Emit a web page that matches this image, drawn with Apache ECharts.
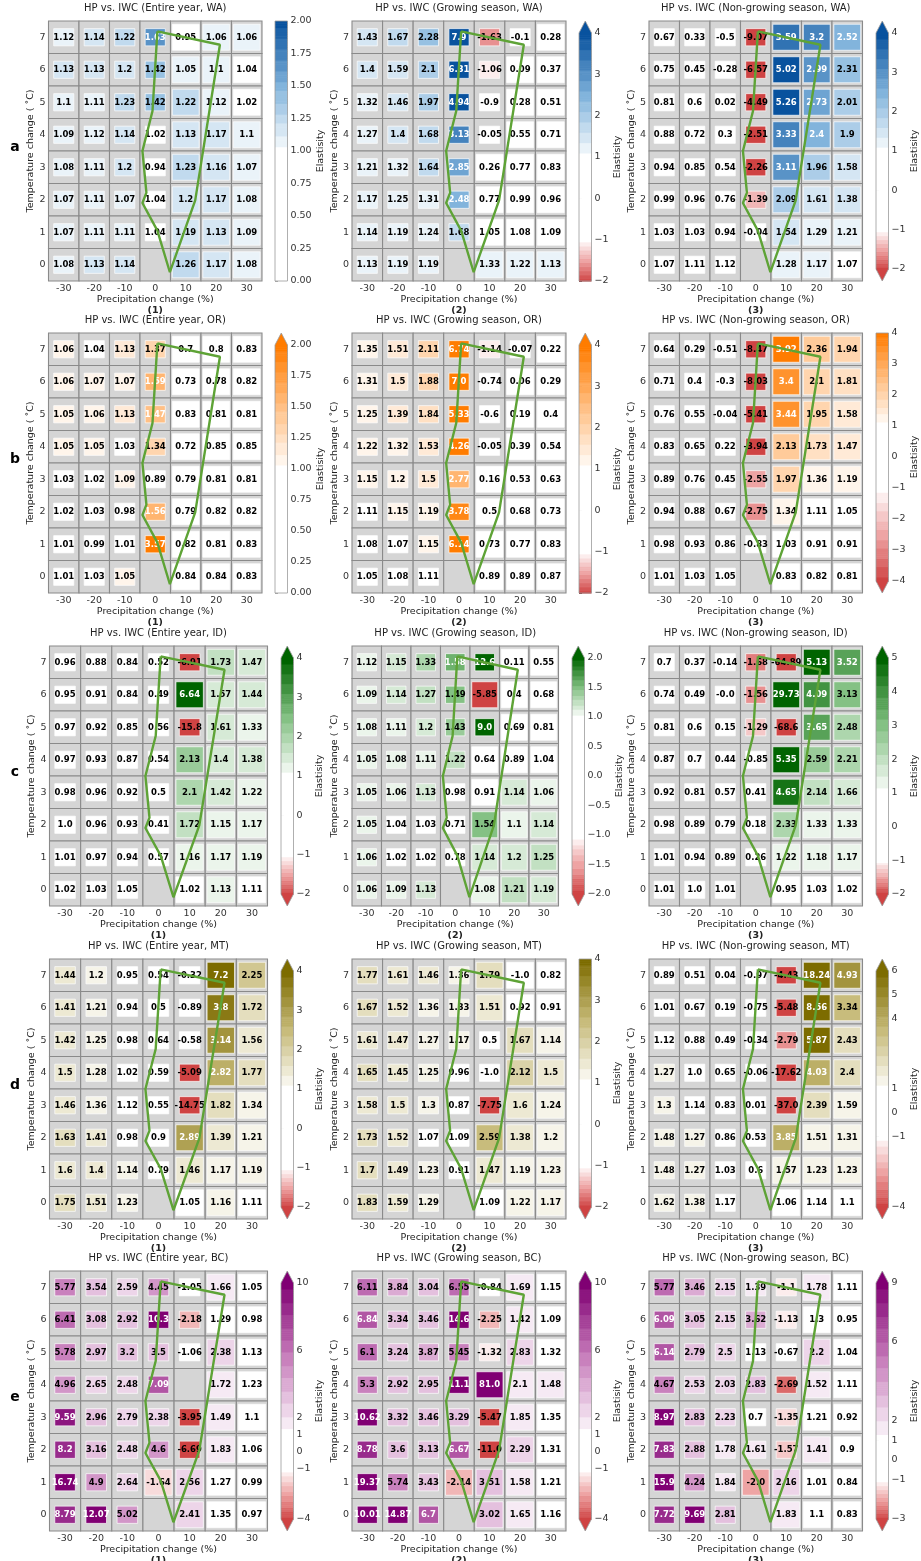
<!DOCTYPE html>
<html>
<head>
<meta charset="utf-8">
<title>HP vs. IWC elasticity</title>
<script src="https://cdn.jsdelivr.net/npm/echarts@6/dist/echarts.min.js"></script>
<style>
  html, body { margin: 0; padding: 0; background: #fff; }
  #chart { width: 921px; height: 1561px; }
</style>
</head>
<body>
<div id="chart"></div>
<script>
// axes of every panel
const precip = [-30, -20, -10, 0, 10, 20, 30]
const temps = [7, 6, 5, 4, 3, 2, 1, 0] // row order of the tables below

// elasticity tables, one row per temperature change (7 at top)
const waEntire = [
  [1.12, 1.14, 1.22, 1.63, 0.95, 1.06, 1.06],
  [1.13, 1.13, 1.2, 1.42, 1.05, 1.1, 1.04],
  [1.1, 1.11, 1.23, 1.42, 1.22, 1.12, 1.02],
  [1.09, 1.12, 1.14, 1.02, 1.13, 1.17, 1.1],
  [1.08, 1.11, 1.2, 0.94, 1.23, 1.16, 1.07],
  [1.07, 1.11, 1.07, 1.04, 1.2, 1.17, 1.08],
  [1.07, 1.11, 1.11, 1.04, 1.19, 1.13, 1.09],
  [1.08, 1.13, 1.14, null, 1.26, 1.17, 1.08]
]
const waGrowing = [
  [1.43, 1.67, 2.28, 7.9, -1.63, -0.1, 0.28],
  [1.4, 1.59, 2.1, 6.31, -1.06, 0.09, 0.37],
  [1.32, 1.46, 1.97, 4.94, -0.9, 0.28, 0.51],
  [1.27, 1.4, 1.68, 3.13, -0.05, 0.55, 0.71],
  [1.21, 1.32, 1.64, 2.85, 0.26, 0.77, 0.83],
  [1.17, 1.25, 1.31, 2.48, 0.77, 0.99, 0.96],
  [1.14, 1.19, 1.24, 1.68, 1.05, 1.08, 1.09],
  [1.13, 1.19, 1.19, null, 1.33, 1.22, 1.13]
]
const waNonGrowing = [
  [0.67, 0.33, -0.5, -9.07, 3.59, 3.2, 2.52],
  [0.75, 0.45, -0.28, -6.57, 5.02, 2.99, 2.31],
  [0.81, 0.6, 0.02, -4.49, 5.26, 2.73, 2.01],
  [0.88, 0.72, 0.3, -2.51, 3.33, 2.4, 1.9],
  [0.94, 0.85, 0.54, -2.26, 3.11, 1.96, 1.58],
  [0.99, 0.96, 0.76, -1.39, 2.09, 1.61, 1.38],
  [1.03, 1.03, 0.94, -0.04, 1.54, 1.29, 1.21],
  [1.07, 1.11, 1.12, null, 1.28, 1.17, 1.07]
]
const orEntire = [
  [1.06, 1.04, 1.13, 1.37, 0.7, 0.8, 0.83],
  [1.06, 1.07, 1.07, 1.59, 0.73, 0.78, 0.82],
  [1.05, 1.06, 1.13, 1.47, 0.83, 0.81, 0.81],
  [1.05, 1.05, 1.03, 1.34, 0.72, 0.85, 0.85],
  [1.03, 1.02, 1.09, 0.89, 0.79, 0.81, 0.81],
  [1.02, 1.03, 0.98, 1.56, 0.79, 0.82, 0.82],
  [1.01, 0.99, 1.01, 3.57, 0.82, 0.81, 0.83],
  [1.01, 1.03, 1.05, null, 0.84, 0.84, 0.83]
]
const orGrowing = [
  [1.35, 1.51, 2.11, 6.74, -1.14, -0.07, 0.22],
  [1.31, 1.5, 1.88, 7.0, -0.74, 0.06, 0.29],
  [1.25, 1.39, 1.84, 5.33, -0.6, 0.19, 0.4],
  [1.22, 1.32, 1.53, 4.26, -0.05, 0.39, 0.54],
  [1.15, 1.2, 1.5, 2.77, 0.16, 0.53, 0.63],
  [1.11, 1.15, 1.19, 3.78, 0.5, 0.68, 0.73],
  [1.08, 1.07, 1.15, 6.14, 0.73, 0.77, 0.83],
  [1.05, 1.08, 1.11, null, 0.89, 0.89, 0.87]
]
const orNonGrowing = [
  [0.64, 0.29, -0.51, -8.47, 3.92, 2.36, 1.94],
  [0.71, 0.4, -0.3, -8.03, 3.4, 2.1, 1.81],
  [0.76, 0.55, -0.04, -5.41, 3.44, 1.95, 1.58],
  [0.83, 0.65, 0.22, -3.94, 2.13, 1.73, 1.47],
  [0.89, 0.76, 0.45, -2.55, 1.97, 1.36, 1.19],
  [0.94, 0.88, 0.67, -2.75, 1.34, 1.11, 1.05],
  [0.98, 0.93, 0.86, -0.83, 1.03, 0.91, 0.91],
  [1.01, 1.03, 1.05, null, 0.83, 0.82, 0.81]
]
const idEntire = [
  [0.96, 0.88, 0.84, 0.52, -6.91, 1.73, 1.47],
  [0.95, 0.91, 0.84, 0.49, 6.64, 1.57, 1.44],
  [0.97, 0.92, 0.85, 0.56, -15.8, 1.61, 1.33],
  [0.97, 0.93, 0.87, 0.54, 2.13, 1.4, 1.38],
  [0.98, 0.96, 0.92, 0.5, 2.1, 1.42, 1.22],
  [1.0, 0.96, 0.93, 0.41, 1.72, 1.15, 1.17],
  [1.01, 0.97, 0.94, 0.57, 1.16, 1.17, 1.19],
  [1.02, 1.03, 1.05, null, 1.02, 1.13, 1.11]
]
const idGrowing = [
  [1.12, 1.15, 1.33, 1.58, 12.6, 0.11, 0.55],
  [1.09, 1.14, 1.27, 1.49, -5.85, 0.4, 0.68],
  [1.08, 1.11, 1.2, 1.43, 9.0, 0.69, 0.81],
  [1.05, 1.08, 1.11, 1.22, 0.64, 0.89, 1.04],
  [1.05, 1.06, 1.13, 0.98, 0.91, 1.14, 1.06],
  [1.05, 1.04, 1.03, 0.71, 1.54, 1.1, 1.14],
  [1.06, 1.02, 1.02, 0.78, 1.14, 1.2, 1.25],
  [1.06, 1.09, 1.13, null, 1.08, 1.21, 1.19]
]
const idNonGrowing = [
  [0.7, 0.37, -0.14, -1.68, -64.89, 5.13, 3.52],
  [0.74, 0.49, -0.0, -1.56, 29.73, 4.09, 3.13],
  [0.81, 0.6, 0.15, -1.29, -68.6, 3.65, 2.48],
  [0.87, 0.7, 0.44, -0.85, 5.35, 2.59, 2.21],
  [0.92, 0.81, 0.57, 0.41, 4.65, 2.14, 1.66],
  [0.98, 0.89, 0.79, 0.18, 2.33, 1.33, 1.33],
  [1.01, 0.94, 0.89, 0.26, 1.22, 1.18, 1.17],
  [1.01, 1.0, 1.01, null, 0.95, 1.03, 1.02]
]
const mtEntire = [
  [1.44, 1.2, 0.95, 0.54, -0.32, 7.2, 2.25],
  [1.41, 1.21, 0.94, 0.5, -0.89, 3.8, 1.72],
  [1.42, 1.25, 0.98, 0.64, -0.58, 3.14, 1.56],
  [1.5, 1.28, 1.02, 0.59, -5.09, 2.82, 1.77],
  [1.46, 1.36, 1.12, 0.55, -14.75, 1.82, 1.34],
  [1.63, 1.41, 0.98, 0.9, 2.89, 1.39, 1.21],
  [1.6, 1.4, 1.14, 0.79, 1.46, 1.17, 1.19],
  [1.75, 1.51, 1.23, null, 1.05, 1.16, 1.11]
]
const mtGrowing = [
  [1.77, 1.61, 1.46, 1.36, 1.79, -1.0, 0.82],
  [1.67, 1.52, 1.36, 1.33, 1.51, 0.92, 0.91],
  [1.61, 1.47, 1.27, 1.17, 0.5, 1.67, 1.14],
  [1.65, 1.45, 1.25, 0.96, -1.0, 2.12, 1.5],
  [1.58, 1.5, 1.3, 0.87, -7.75, 1.6, 1.24],
  [1.73, 1.52, 1.07, 1.09, 2.59, 1.38, 1.2],
  [1.7, 1.49, 1.23, 0.91, 1.47, 1.19, 1.23],
  [1.83, 1.59, 1.29, null, 1.09, 1.22, 1.17]
]
const mtNonGrowing = [
  [0.89, 0.51, 0.04, -0.97, -4.43, 18.24, 4.93],
  [1.01, 0.67, 0.19, -0.75, -5.48, 8.56, 3.34],
  [1.12, 0.88, 0.49, -0.34, -2.79, 5.87, 2.43],
  [1.27, 1.0, 0.65, -0.06, -17.62, 4.03, 2.4],
  [1.3, 1.14, 0.83, 0.01, -37.0, 2.39, 1.59],
  [1.48, 1.27, 0.86, 0.53, 3.85, 1.51, 1.31],
  [1.48, 1.27, 1.03, 0.6, 1.57, 1.23, 1.23],
  [1.62, 1.38, 1.17, null, 1.06, 1.14, 1.1]
]
const bcEntire = [
  [5.77, 3.54, 2.59, 4.45, -1.05, 1.66, 1.05],
  [6.41, 3.08, 2.92, 10.3, -2.18, 1.29, 0.98],
  [5.78, 2.97, 3.2, 3.5, -1.06, 2.38, 1.13],
  [4.96, 2.65, 2.48, 7.09, null, 1.72, 1.23],
  [9.59, 2.96, 2.79, 2.38, -3.95, 1.49, 1.1],
  [8.2, 3.16, 2.48, 4.6, -6.69, 1.83, 1.06],
  [16.74, 4.9, 2.64, -1.64, 2.56, 1.27, 0.99],
  [8.79, 12.07, 5.02, null, 2.41, 1.35, 0.97]
]
const bcGrowing = [
  [6.11, 3.84, 3.04, 6.55, -0.84, 1.69, 1.15],
  [6.84, 3.34, 3.46, 14.6, -2.25, 1.42, 1.09],
  [6.1, 3.24, 3.87, 5.45, -1.32, 2.83, 1.32],
  [5.3, 2.92, 2.95, 11.1, 81.0, 2.1, 1.48],
  [10.62, 3.32, 3.46, 3.29, -5.47, 1.85, 1.35],
  [8.78, 3.6, 3.13, 6.67, -11.0, 2.29, 1.31],
  [19.37, 5.74, 3.43, -2.14, 3.51, 1.58, 1.21],
  [10.01, 14.87, 6.7, null, 3.02, 1.65, 1.16]
]
const bcNonGrowing = [
  [5.77, 3.46, 2.15, 1.39, -1.1, 1.78, 1.11],
  [6.09, 3.05, 2.15, 3.62, -1.13, 1.3, 0.95],
  [6.14, 2.79, 2.5, 1.13, -0.67, 2.2, 1.04],
  [4.67, 2.53, 2.03, 2.83, -2.69, 1.52, 1.11],
  [8.97, 2.83, 2.23, 0.7, -1.35, 1.21, 0.92],
  [7.83, 2.88, 1.78, 1.61, -1.57, 1.41, 0.9],
  [15.9, 4.24, 1.84, -2.0, 2.16, 1.01, 0.84],
  [7.72, 9.69, 2.81, null, 1.83, 1.1, 0.83]
]

// cells whose marker class differs from the "HP rises" rule (precip, temp)
const flipsIdGrowing = [[10, 7], [10, 6], [10, 5]]
const flipsMtGrowing = [[10, 5], [20, 7]]
const flipsBc = [[0, 1]]

// outlined zone (precip %, temp C)
const zonePrecip = [0.7, 21.2, 13.1, 4.8, 0.7, -4.2, -2.9, -4.2, -0.9, 0.7]
const zoneTemp = [7.18, 6.77, 1.98, -0.23, 1.05, 1.9, 2.22, 3.5, 4.73, 7.18]

// colour bar ranges and tick labels
const rangeA = [[0, 2], [-2, 4], [-2, 4]]
const rangeB = [[0, 2], [-2, 4], [-4, 4]]
const rangeC = [[-2, 4], [-2, 2], [-2, 5]]
const rangeD = [[-2, 4], [-2, 4], [-4, 6]]
const rangeE = [[-4, 10], [-4, 10], [-3, 9]]
const ticksQuarter = [0, 0.25, 0.5, 0.75, 1, 1.25, 1.5, 1.75, 2]
const ticksUnit = [-2, -1, 0, 1, 2, 3, 4]
const ticksOr3 = [-4, -3, -2, -1, 0, 1, 2, 3, 4]
const ticksId2 = [-2, -1.5, -1, -0.5, 0, 0.5, 1, 1.5, 2]
const ticksId3 = [-2, -1, 0, 1, 2, 3, 4, 5]
const ticksMt3 = [-4, -1, 0, 1, 4, 5, 6]
const ticksBc = [-4, -1, 0, 1, 2, 6, 10]
const ticksBc3 = [-3, -1, 0, 1, 2, 6, 9]

const regions = ['WA', 'OR', 'ID', 'MT', 'BC']
const seasons = ['Entire year', 'Growing season', 'Non-growing season']
const rowLetters = ['a', 'b', 'c', 'd', 'e']

const FONT = 'DejaVu Sans'

const panels = [
  [
    { values: waEntire, range: rangeA[0], ticks: ticksQuarter, dec: 2, arrow: 'none' },
    { values: waGrowing, range: rangeA[1], ticks: ticksUnit, dec: 0, arrow: 'top' },
    { values: waNonGrowing, range: rangeA[2], ticks: ticksUnit, dec: 0, arrow: 'both' }
  ],
  [
    { values: orEntire, range: rangeB[0], ticks: ticksQuarter, dec: 2, arrow: 'top' },
    { values: orGrowing, range: rangeB[1], ticks: ticksUnit, dec: 0, arrow: 'top' },
    { values: orNonGrowing, range: rangeB[2], ticks: ticksOr3, dec: 0, arrow: 'bottom' }
  ],
  [
    { values: idEntire, range: rangeC[0], ticks: ticksUnit, dec: 0, arrow: 'both' },
    { values: idGrowing, range: rangeC[1], ticks: ticksId2, dec: 1, arrow: 'both', flips: flipsIdGrowing },
    { values: idNonGrowing, range: rangeC[2], ticks: ticksId3, dec: 0, arrow: 'both' }
  ],
  [
    { values: mtEntire, range: rangeD[0], ticks: ticksUnit, dec: 0, arrow: 'both' },
    { values: mtGrowing, range: rangeD[1], ticks: ticksUnit, dec: 0, arrow: 'bottom', flips: flipsMtGrowing },
    { values: mtNonGrowing, range: rangeD[2], ticks: ticksMt3, dec: 0, arrow: 'both' }
  ],
  [
    { values: bcEntire, range: rangeE[0], ticks: ticksBc, dec: 0, arrow: 'both', flips: flipsBc },
    { values: bcGrowing, range: rangeE[1], ticks: ticksBc, dec: 0, arrow: 'both', flips: flipsBc },
    { values: bcNonGrowing, range: rangeE[2], ticks: ticksBc3, dec: 0, arrow: 'both', flips: flipsBc }
  ]
]

// colour ramps: white -> mid -> dark, plus a white-to-red ramp for values below -1
const palettes = [
  { stops: ['#ffffff', '#82b4dc', '#08529e'], white: 0.45 },
  { stops: ['#ffffff', '#ffc086', '#ff7c00'], white: 0.45 },
  { stops: ['#ffffff', '#84c184', '#006400'], white: 0.52 },
  { stops: ['#ffffff', '#c8bc7c', '#7d6c00'], white: 0.58 },
  { stops: ['#ffffff', '#c981bd', '#800073'], white: 0.62 }
]
const redStops = ['#ffffff', '#eea4a4', '#cf4343']

const rowTops = [21, 333, 646, 959, 1271]
const PLOT_H = 260
const CB_W = 12.5
const ARROW = 12

function panelBox(r, c) {
  if (c === 0) return r < 2 ? { left: 48.5, width: 213.5, cb: 275, name: 318.5 } : { left: 49.5, width: 218, cb: 281, name: 318.5 }
  if (c === 1) return r === 2 ? { left: 352, width: 206.5, cb: 572, name: 617 } : { left: 352, width: 214, cb: 579, name: 617 }
  return { left: 649, width: 213.5, cb: 876, name: 913 }
}

function hexToRgb(h) {
  return [parseInt(h.slice(1, 3), 16), parseInt(h.slice(3, 5), 16), parseInt(h.slice(5, 7), 16)]
}
function ramp(stops, t) {
  const seg = t <= 0.5 ? 0 : 1
  const lt = seg === 0 ? t / 0.5 : (t - 0.5) / 0.5
  const a = hexToRgb(stops[seg])
  const b = hexToRgb(stops[seg + 1])
  const c = a.map((x, i) => Math.round(x + (b[i] - x) * lt))
  return 'rgb(' + c.join(',') + ')'
}

function makeScale(lo, hi, pal) {
  return function (v) {
    if (v > 1) {
      let t = Math.min(1, (v - 1) / (hi - 1))
      t = Math.round(t * 12) / 12
      return { color: ramp(pal.stops, t), light: t >= pal.white }
    }
    if (v < -1 && lo < -1) {
      let t = Math.min(1, (-1 - v) / (-1 - lo))
      t = Math.round(t * 10) / 10
      return { color: ramp(redStops, t), light: false }
    }
    return { color: '#ffffff', light: false }
  }
}

function fmtCell(v) {
  if (Object.is(v, -0)) return '-0.0'
  return Number.isInteger(v) ? v.toFixed(1) : String(v)
}

function cellSeries(gi, panel, scale) {
  const cells = []
  const flips = panel.flips || []
  panel.values.forEach(function (row, ri) {
    row.forEach(function (v, ci) {
      const p = precip[ci]
      const t = temps[ri]
      let big = v !== null && p > 0 && v > 0
      if (flips.some(f => f[0] === p && f[1] === t)) big = !big
      cells.push({ p, t, v, big })
    })
  })
  return {
    type: 'custom',
    xAxisIndex: gi,
    yAxisIndex: gi,
    silent: true,
    z: 2,
    data: cells.map(c => [c.p, c.t]),
    renderItem: function (params, api) {
      const cell = cells[params.dataIndex]
      const c = api.coord([cell.p, cell.t])
      const s = api.size([10, 1])
      const children = [{
        type: 'rect',
        shape: { x: c[0] - s[0] / 2, y: c[1] - s[1] / 2, width: s[0], height: s[1] },
        style: { fill: '#d5d5d5', stroke: '#8a8a8a', lineWidth: 1.1 }
      }]
      if (cell.v !== null) {
        const w = s[0] * (cell.big ? 0.88 : 0.66)
        const h = s[1] * (cell.big ? 0.8 : 0.53)
        const col = scale(cell.v)
        children.push({
          type: 'rect',
          shape: { x: c[0] - w / 2, y: c[1] - h / 2, width: w, height: h },
          style: { fill: col.color, stroke: 'rgba(255,255,255,0.85)', lineWidth: 0.8 }
        })
        children.push({
          type: 'text',
          style: {
            text: fmtCell(cell.v), x: c[0], y: c[1] + 0.5,
            fill: col.light ? '#ffffff' : '#000000',
            fontSize: 8.5, fontWeight: 'bold', fontFamily: FONT,
            align: 'center', verticalAlign: 'middle',
            textAlign: 'center', textVerticalAlign: 'middle'
          }
        })
      }
      return { type: 'group', children }
    }
  }
}

function colorbarSeries(gi, panel, scale) {
  const lo = panel.range[0]
  const hi = panel.range[1]
  const steps = 120
  const bands = []
  for (let i = 0; i < steps; i++) bands.push([lo + (hi - lo) * i / steps, lo + (hi - lo) * (i + 1) / steps])
  const top = panel.arrow === 'top' || panel.arrow === 'both'
  const bottom = panel.arrow === 'bottom' || panel.arrow === 'both'
  return {
    type: 'custom',
    xAxisIndex: gi,
    yAxisIndex: gi,
    silent: true,
    clip: false,
    data: bands,
    renderItem: function (params, api) {
      const b = bands[params.dataIndex]
      const p0 = api.coord([0, b[0]])
      const p1 = api.coord([1, b[1]])
      const children = [{
        type: 'rect',
        shape: { x: p0[0], y: p1[1], width: p1[0] - p0[0], height: p0[1] - p1[1] + 0.6 },
        style: { fill: scale((b[0] + b[1]) / 2).color }
      }]
      const bl = api.coord([0, lo])
      const tr = api.coord([1, hi])
      const mx = (bl[0] + tr[0]) / 2
      if (params.dataIndex === 0 && bottom) {
        children.push({
          type: 'polygon',
          shape: { points: [[bl[0], bl[1]], [tr[0], bl[1]], [mx, bl[1] + ARROW]] },
          style: { fill: scale(lo - 1).color }
        })
      }
      if (params.dataIndex === steps - 1) {
        if (top) {
          children.push({
            type: 'polygon',
            shape: { points: [[bl[0], tr[1]], [tr[0], tr[1]], [mx, tr[1] - ARROW]] },
            style: { fill: scale(hi + 1).color }
          })
        }
        const pts = [[bl[0], bl[1]]]
        if (bottom) pts.push([mx, bl[1] + ARROW])
        pts.push([tr[0], bl[1]], [tr[0], tr[1]])
        if (top) pts.push([mx, tr[1] - ARROW])
        pts.push([bl[0], tr[1]])
        children.push({
          type: 'polygon',
          shape: { points: pts },
          style: { fill: 'none', stroke: '#9a9a9a', lineWidth: 0.8 }
        })
      }
      return { type: 'group', children }
    }
  }
}

const grid = []
const xAxis = []
const yAxis = []
const series = []
const texts = []
const axisFont = { fontSize: 9.5, color: '#333', fontFamily: FONT }
const nameFont = { fontSize: 9.5, color: '#222', fontFamily: FONT }

let gi = 0
panels.forEach(function (row, r) {
  const top = rowTops[r]
  texts.push({
    type: 'text', x: 15, y: top + 126.5,
    style: { text: rowLetters[r], fontSize: 14, fontWeight: 'bold', fontFamily: FONT, fill: '#000', align: 'center', verticalAlign: 'middle', textAlign: 'center', textVerticalAlign: 'middle' }
  })
  row.forEach(function (panel, c) {
    const box = panelBox(r, c)
    const scale = makeScale(panel.range[0], panel.range[1], palettes[r])

    // heatmap grid
    grid.push({ left: box.left, top: top, width: box.width, height: PLOT_H })
    xAxis.push({
      gridIndex: gi, type: 'value', min: -35, max: 35,
      axisLine: { show: false }, splitLine: { show: false },
      axisTick: { show: true, customValues: precip, length: 3, lineStyle: { color: '#333' } },
      axisLabel: Object.assign({ customValues: precip, margin: 3 }, axisFont),
      name: 'Precipitation change (%)', nameLocation: 'middle', nameGap: 14, nameTextStyle: nameFont
    })
    yAxis.push({
      gridIndex: gi, type: 'value', min: -0.5, max: 7.5,
      axisLine: { show: false }, splitLine: { show: false },
      axisTick: { show: true, customValues: [0, 1, 2, 3, 4, 5, 6, 7], length: 3, lineStyle: { color: '#333' } },
      axisLabel: Object.assign({ customValues: [0, 1, 2, 3, 4, 5, 6, 7], margin: 3 }, axisFont),
      name: 'Temperature change ( \u02DAC)', nameLocation: 'middle', nameGap: 12, nameTextStyle: nameFont
    })
    series.push(cellSeries(gi, panel, scale))
    series.push({
      type: 'line', xAxisIndex: gi, yAxisIndex: gi, silent: true, z: 5,
      symbol: 'none', showSymbol: false,
      lineStyle: { color: '#5ea336', width: 2.4 },
      data: zonePrecip.map((x, i) => [x, zoneTemp[i]])
    })
    gi++

    // colour bar
    const hasTop = panel.arrow === 'top' || panel.arrow === 'both'
    const hasBottom = panel.arrow === 'bottom' || panel.arrow === 'both'
    const barTop = top + (hasTop ? ARROW : 0)
    const barH = PLOT_H - (hasTop ? ARROW : 0) - (hasBottom ? ARROW : 0)
    grid.push({ left: box.cb, top: barTop, width: CB_W, height: barH })
    xAxis.push({ gridIndex: gi, type: 'value', min: 0, max: 1, show: false })
    yAxis.push({
      gridIndex: gi, type: 'value', position: 'right',
      min: panel.range[0], max: panel.range[1],
      axisLine: { show: false }, splitLine: { show: false },
      axisTick: { show: true, customValues: panel.ticks, length: 3, lineStyle: { color: '#333' } },
      axisLabel: Object.assign({
        customValues: panel.ticks, margin: 3,
        formatter: v => (panel.dec ? v.toFixed(panel.dec) : String(v)).replace('-', '\u2212')
      }, axisFont),
      name: 'Elastisity', nameLocation: 'middle', nameRotate: 90,
      nameGap: box.name - (box.cb + CB_W) - 5, nameTextStyle: nameFont
    })
    series.push(colorbarSeries(gi, panel, scale))
    gi++

    const cx = box.left + box.width / 2
    texts.push({
      type: 'text', x: cx, y: top - 12.5,
      style: { text: 'HP vs. IWC (' + seasons[c] + ', ' + regions[r] + ')', fontSize: 10, fontFamily: FONT, fill: '#222', align: 'center', verticalAlign: 'middle', textAlign: 'center', textVerticalAlign: 'middle' }
    })
    texts.push({
      type: 'text', x: cx, y: top + PLOT_H + 29.5,
      style: { text: '(' + (c + 1) + ')', fontSize: 9.5, fontWeight: 'bold', fontFamily: FONT, fill: '#222', align: 'center', verticalAlign: 'middle', textAlign: 'center', textVerticalAlign: 'middle' }
    })
  })
})

const chart = echarts.init(document.getElementById('chart'))
chart.setOption({
  animation: false,
  backgroundColor: '#ffffff',
  textStyle: { fontFamily: FONT },
  grid,
  xAxis,
  yAxis,
  series,
  graphic: { elements: texts }
})
</script>
</body>
</html>
